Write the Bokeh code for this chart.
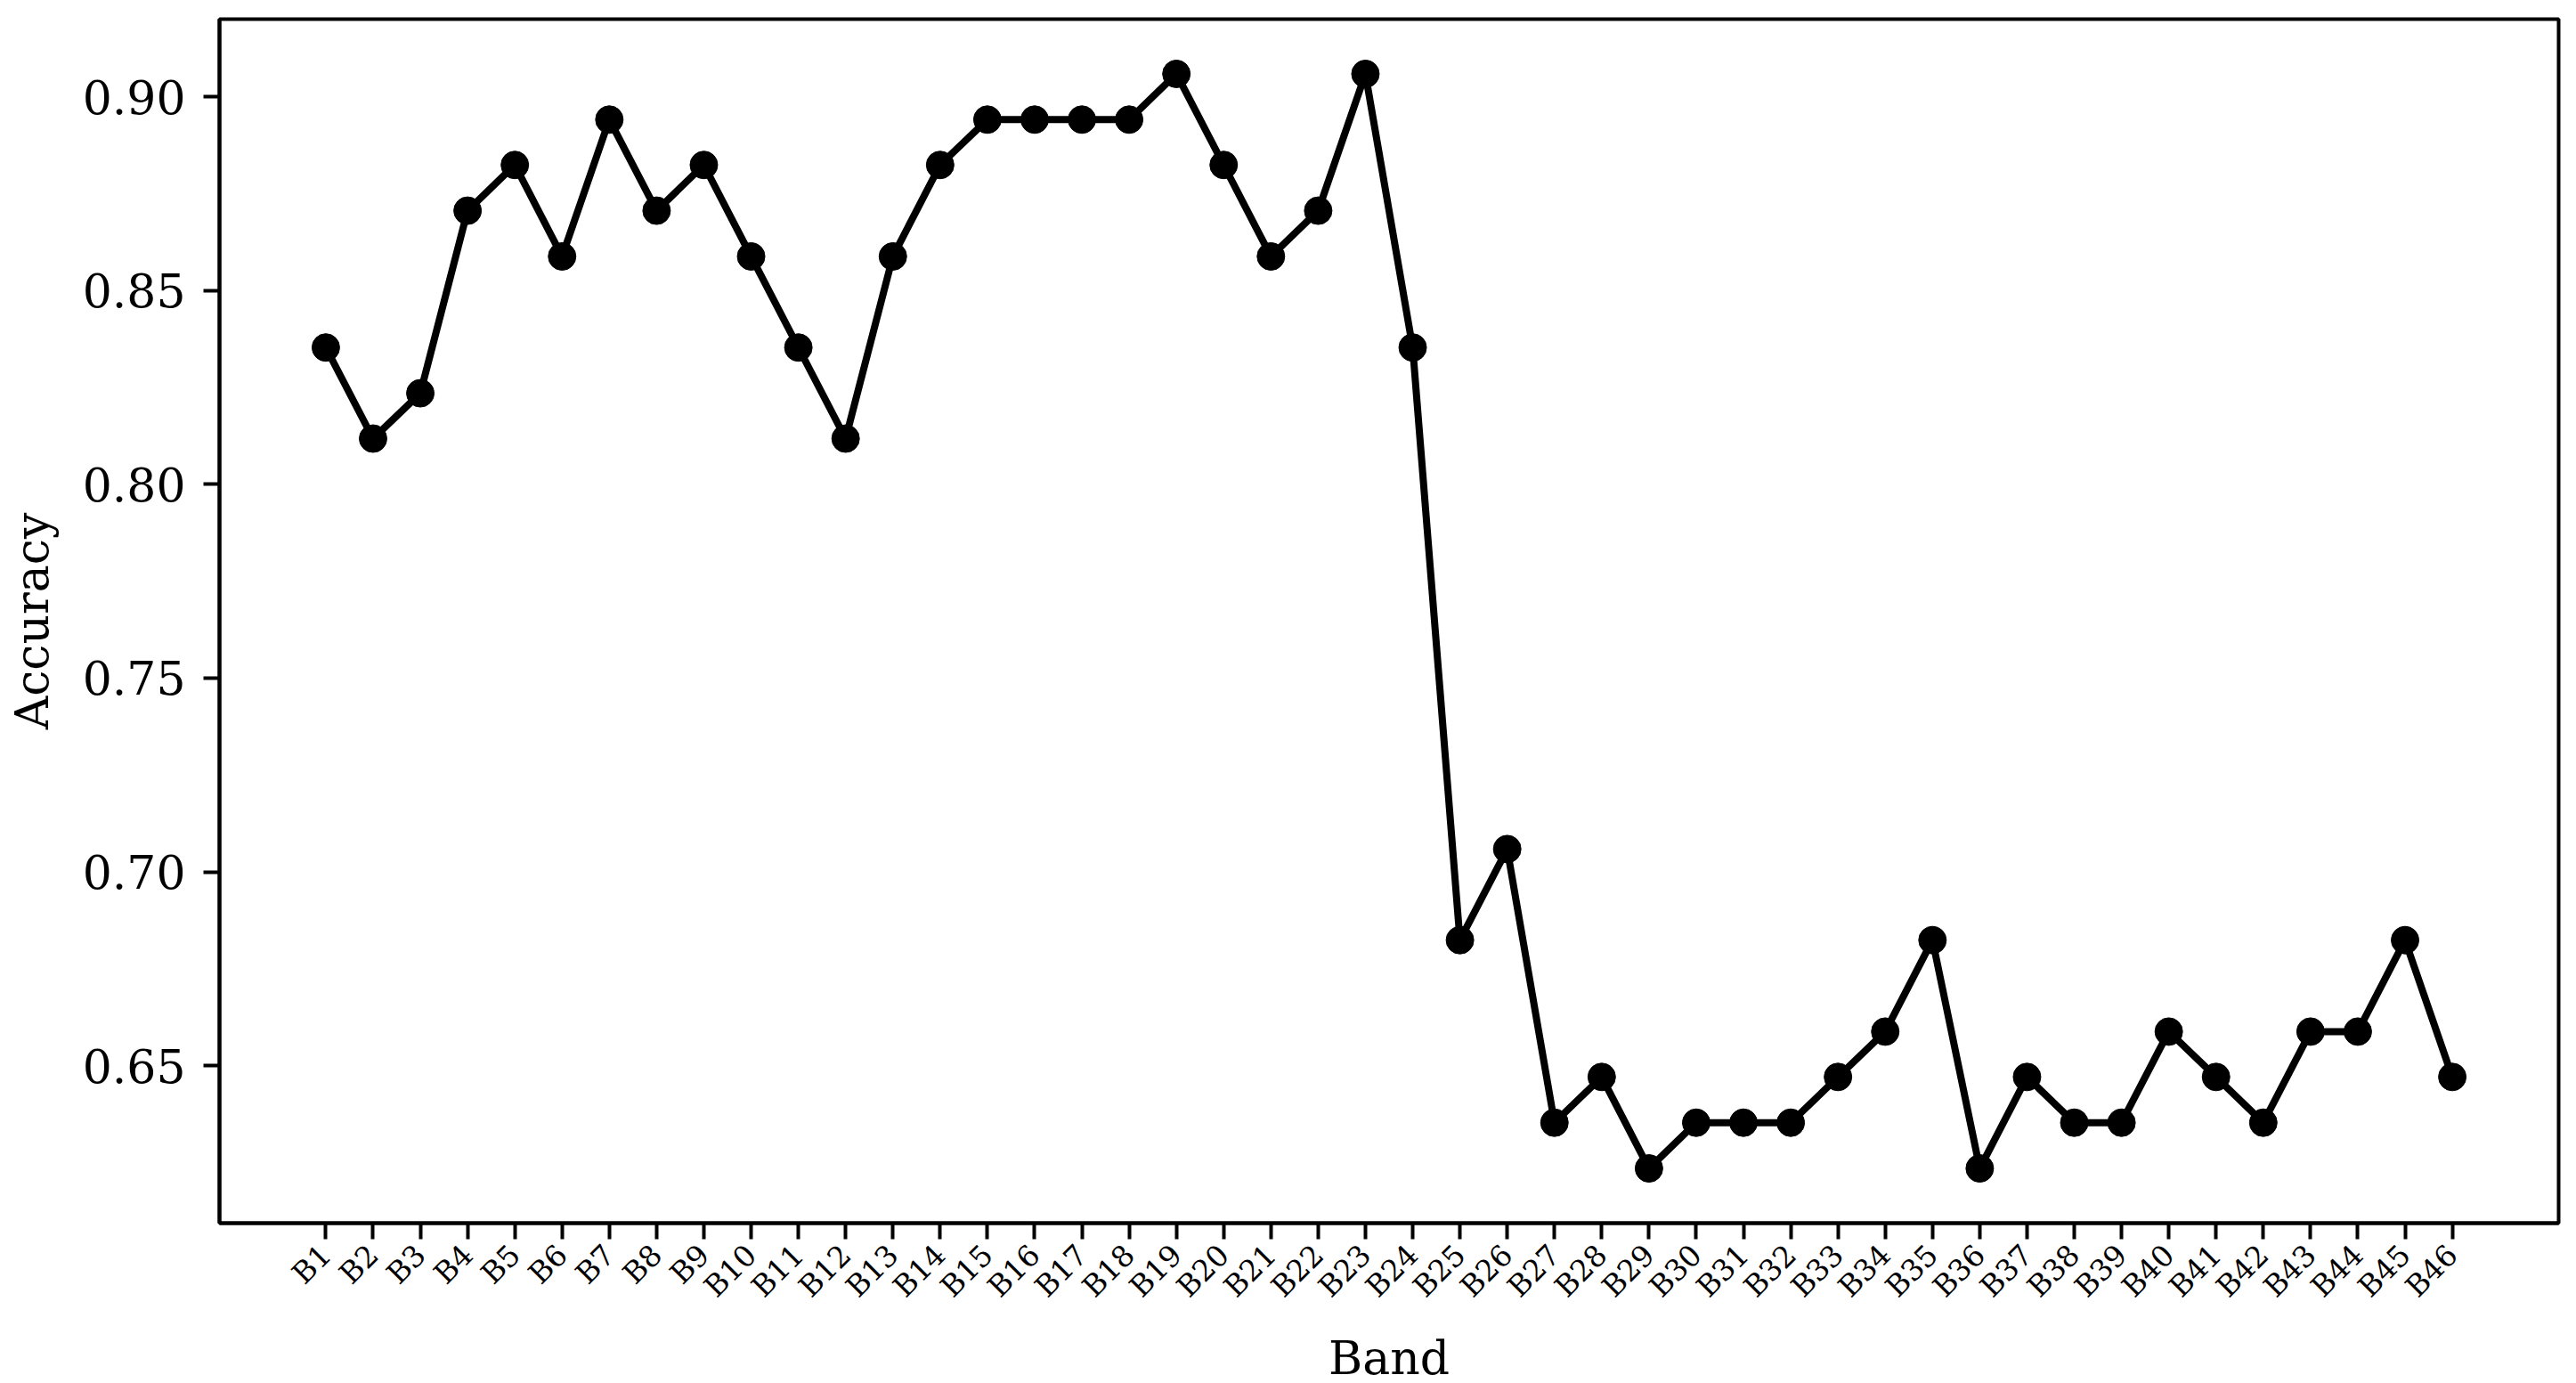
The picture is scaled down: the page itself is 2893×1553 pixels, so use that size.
from bokeh.plotting import figure
from bokeh.models import FixedTicker, Range1d, PrintfTickFormatter, ColumnDataSource
from bokeh.embed import file_html
from bokeh.resources import INLINE
import math

bands = [f"B{i}" for i in range(1, 47)]
accuracy = [
    0.8353, 0.8118, 0.8235, 0.8706, 0.8824, 0.8588, 0.8941, 0.8706, 0.8824, 0.8588,
    0.8353, 0.8118, 0.8588, 0.8824, 0.8941, 0.8941, 0.8941, 0.8941, 0.9059, 0.8824,
    0.8588, 0.8706, 0.9059, 0.8353, 0.6824, 0.7059, 0.6353, 0.6471, 0.6235, 0.6353,
    0.6353, 0.6353, 0.6471, 0.6588, 0.6824, 0.6235, 0.6471, 0.6353, 0.6353, 0.6588,
    0.6471, 0.6353, 0.6588, 0.6588, 0.6824, 0.6471,
]
y_ticks = [0.65, 0.70, 0.75, 0.80, 0.85, 0.90]

x_idx = list(range(len(bands)))
src = ColumnDataSource(data=dict(x=x_idx, y=accuracy, band=bands))

ymin, ymax = min(accuracy), max(accuracy)
ypad = (ymax - ymin) * 0.05
xpad = (len(bands) - 1) * 0.05

p = figure(
    output_backend="svg", toolbar_location=None,
    frame_width=2627, frame_height=1352,
    min_border_left=246, min_border_top=21, min_border_right=4, min_border_bottom=164,
    x_range=Range1d(-xpad, len(bands) - 1 + xpad),
    y_range=Range1d(ymin - ypad, ymax + ypad),
)
p.background_fill_color = "white"
p.border_fill_color = "white"
p.outline_line_color = "black"
p.outline_line_width = 4
p.grid.visible = False

p.line("x", "y", source=src, line_color="black", line_width=8)
p.scatter("x", "y", source=src, size=31, fill_color="black", line_color="black")

FONT = "DejaVu Serif"
for ax in (p.xaxis[0], p.yaxis[0]):
    ax.axis_line_color = "black"
    ax.axis_line_width = 4
    ax.major_tick_line_color = "black"
    ax.major_tick_line_width = 4
    ax.major_tick_out = 18
    ax.major_tick_in = 0
    ax.minor_tick_line_color = None
    ax.major_label_text_font = FONT
    ax.major_label_text_color = "black"
    ax.axis_label_text_font = FONT
    ax.axis_label_text_font_style = "normal"
    ax.axis_label_text_font_size = "52px"
    ax.axis_label_text_color = "black"

p.xaxis.ticker = FixedTicker(ticks=x_idx)
p.xaxis.major_label_overrides = {i: b for i, b in enumerate(bands)}
p.xaxis.major_label_orientation = math.pi / 4
p.xaxis.major_label_text_font_size = "33px"
p.xaxis.major_label_standoff = 12
p.xaxis.axis_label = "Band"
p.xaxis.axis_label_standoff = 14

p.yaxis.ticker = FixedTicker(ticks=y_ticks)
p.yaxis.formatter = PrintfTickFormatter(format="%.2f")
p.yaxis.major_label_text_font_size = "52px"
p.yaxis.major_label_standoff = 20
p.yaxis.axis_label = "Accuracy"
p.yaxis.axis_label_standoff = 24

open("out.html", "w").write(file_html(p, INLINE))
